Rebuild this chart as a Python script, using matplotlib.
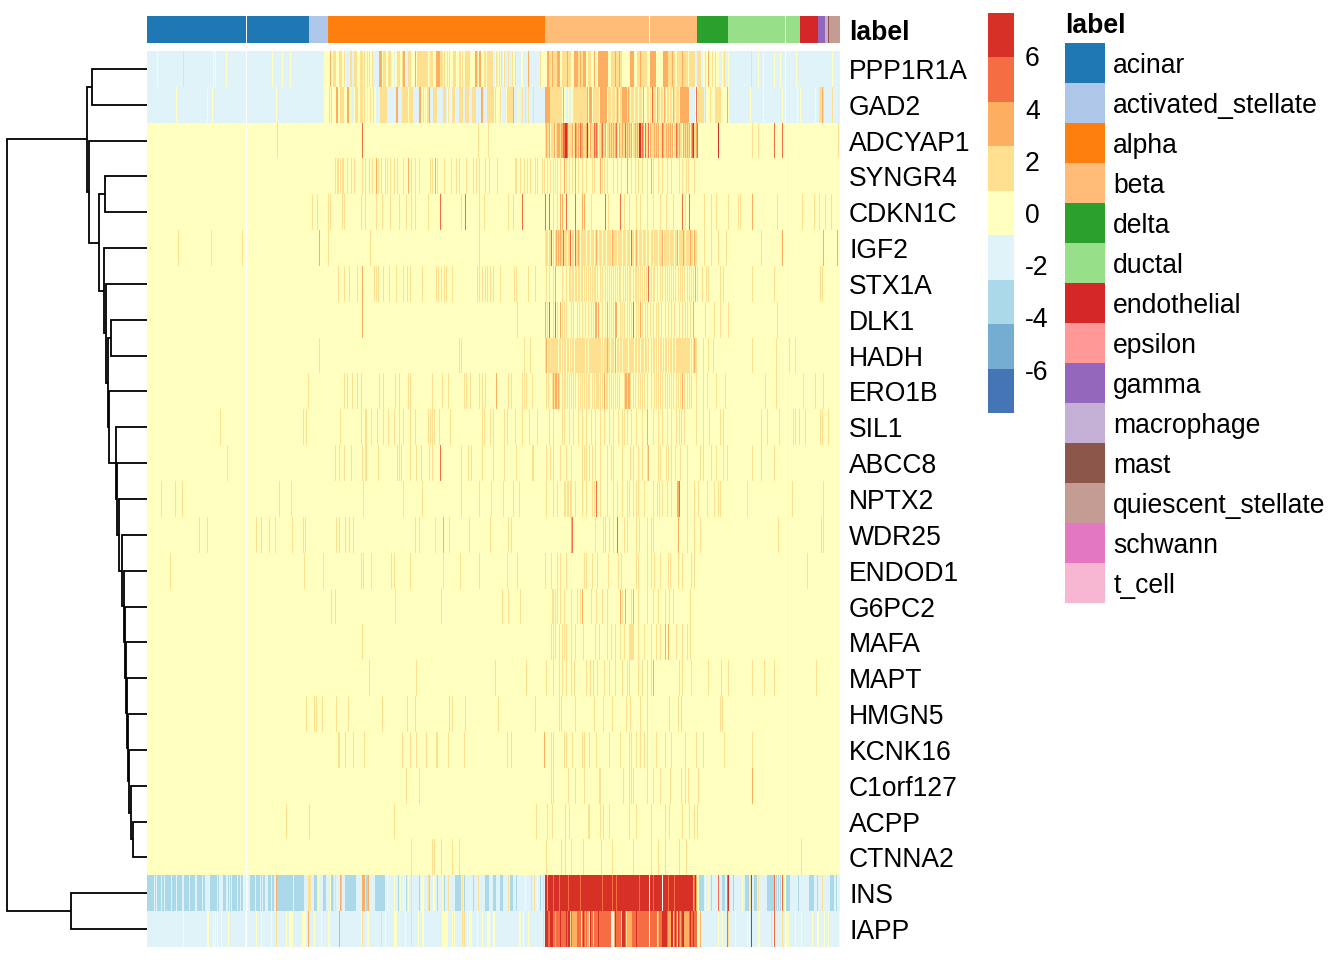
import numpy as np
import matplotlib
matplotlib.use("Agg")
import matplotlib.pyplot as plt
from matplotlib.colors import ListedColormap, BoundaryNorm
from matplotlib.colorbar import Colorbar

plt.rcParams['font.family'] = ['Liberation Sans', 'DejaVu Sans']
W, H = 1344, 960
FS = 19.1

def cells(text):
    out = []
    for part in text.split():
        if '-' in part:
            a, b = part.split('-')
            out.extend(range(int(a), int(b) + 1))
        else:
            out.append(int(part))
    return out

GENES = ["PPP1R1A", "GAD2", "ADCYAP1", "SYNGR4", "CDKN1C", "IGF2", "STX1A", "DLK1", "HADH", "ERO1B",
         "SIL1", "ABCC8", "NPTX2", "WDR25", "ENDOD1", "G6PC2", "MAFA", "MAPT", "HMGN5", "KCNK16",
         "C1orf127", "ACPP", "CTNNA2", "INS", "IAPP"]
CELL_LABELS = ["acinar", "activated_stellate", "alpha", "beta", "delta", "ductal", "endothelial", "epsilon",
               "gamma", "macrophage", "mast", "quiescent_stellate", "schwann", "t_cell"]
CELL_COUNTS = [162, 19, 217, 152, 31, 72, 18, 0, 7, 3, 1, 11, 0, 0]
LABEL_COLORS = ["#1f77b4", "#aec7e8", "#ff7f0e", "#ffbb78", "#2ca02c", "#98df8a", "#d62728", "#ff9896",
                "#9467bd", "#c5b0d5", "#8c564b", "#c49c94", "#e377c2", "#f7b6d2"]
HEAT_COLORS = ["#4575b4", "#74add1", "#abd9e9", "#e0f3f8", "#ffffbf", "#fee090", "#fdae61", "#f46d43", "#d73027"]
N_CELLS = 693
GAP_CELLS = [99, 502, 638]
STEP = 1.7
LEVEL_LIMIT = 7.66
CBAR_TICKS = [-6, -4, -2, 0, 2, 4, 6]

# Level per row: first the background runs, then streaks by level (cell numbers).
PPP1R1A_BASE = [(0, 693, -1), (178, 572, 0)]
PPP1R1A = {
    0: "10 66 68 79 125 135 143 177 575 581 611 616 627 633 649 685",
    -1: "199-202 205 206 226-231 247 259 260 282 347 350 355 358-360 362-364 369-373 376-380 382-392 549 555",
    1: "36 186-188 192-194 197 203 204 207-209 213-215 217 220 222 225 236-238 241-243 250-252 255 261-263 270-280 283-285 "
       "293-295 297 300 302 306-308 312 313 315 318-322 330 337 338 340-345 349 352 354 357 361 365 368 393 "
       "402-409 415-423 431-435 441-443 464-474 490-499 521-527 530-540 542-547 550-553 558 565 568 577 604",
    2: "183 232-234 256 257 268 289-292 328 329 332 333 381 400 401 405 410-412 420 427-430 433 436-438 447 451-460 468 472 483-486 "
       "493 503-508 516-520 525 535 561",
}
GAD2_BASE = [(0, 693, -1), (178, 582, 0)]
GAD2 = {
    0: "29 60 65 129 177 603 616 635 650 653 668",
    -1: "204-206 220 229-232 240-248 251-254 266-271 274 278 283-285 290-295 299 303 309-311 316 317 322-324 329-333 336-339 "
        "355-358 367-370 372-374 376 377 379 380 382-385 387-397 419 420 422 423 543-547 557",
    1: "182 184 193-196 208-210 213-215 217 223 226 233-239 255-260 262-265 276 280 281 286-289 296-298 301 305-307 312-315 "
       "318-321 325-328 340-346 348 353 360-365 375 378 381 386 403-414 426-439 446-451 461-463 465-467 469-471 473-482 484-486 488-490 "
       "492-494 500-503 506-508 510-512 514 515 517 518 520 521 523 524 526 527 529-531 551-556 558 563 568-573 672-676 685",
    2: "189 190 200 201 249 250 272 273 282 334 335 366 398-402 416 440 442-444 453-459 470 475-479 481 496 510 517 526 533-541 580 675",
    3: "505 549",
}
ADCYAP1_BASE = [(0, 693, 0), (398, 550, 1)]
ADCYAP1 = {
    0: "403 408 426 442 451 459 471 485 497 512 526 535 543",
    1: "130 331 341 605 611 691",
    2: "399 402 407 410-412 414 415 425 429 431 434 435 439 443 448 450 454 458 462 464 466 468 472 475 480 482 484 488 490 494 496 503 "
       "507 509 511 516 519 521 523 525 530 532 536 538 540 542 544 549",
    3: "215 416 417 420 428 433 447 449 455 469 478 495 498 501 515 529 545 550 627 635",
    4: "418 419 440 492 493 546 571",
}
SYNGR4_BASE = [(0, 693, 0)]
SYNGR4 = {
    1: "188 190 191 193 195 196 200 204 207 215 218 222 225 231 234 238 240 243 247 250 256 264 268 272 283 285 290 297 304 309 312 "
       "319 326 329 332 338 342 350 368 369 373 377 380 383 388 390 395 397 400 403 406 408 410 413 419 422 425 431 435 439 445 447 "
       "455 457 460 466 470 474 484 488 491 495 500 506 511 515 520 524 532 535 539 541 547",
    2: "229 261 288 417 428 453 480 504",
}
CDKN1C_BASE = [(0, 693, 0)]
CDKN1C = {
    1: "165 170 181 183 195 197 214 218 229 235 243 252 259 264 268 281 314 332 337 361 366 406 410 444 461 477 482 489 493 500 506 "
       "513 519 526 538 557 564 569 581 591 593 630 655 667 672 678 684",
    2: "413 415 435 437 605",
    3: "293 318 375 398 402 419 428 458 473 535 542",
}
IGF2_BASE = [(0, 693, 0), (398, 550, 1)]
IGF2 = {
    0: "401 405 407 420 424 427 433 439 443 447 451 455 459 464 470 475 479 483 487 491 495 499 503 506 511 516 522 527 531 538 546",
    1: "31 64 95 181 223 332 557 564 571 579 614",
    2: "172 409 411 413 431 449 465 489 502 515 530 536 543 547 635 676 690",
    3: "404 416 423 428 484",
}
STX1A_BASE = [(0, 693, 0)]
STX1A = {
    1: "191 197 202 210 227 229 231 236 242 249 256 260 263 275 289 291 294 297 299 305 330 332 335 338 340 343 346 353 367 369 381 388 "
       "399 402 406 415 419 422 423 425 426 428 429 431 432 434 435 437 439 441 443 445 447 448 450 453 455 458 460 462 464 466 468 470 "
       "472 473 476 478 480 482 483 486 488 489 491 493 495 497 499 502 504 506 507 510 513 515 518 520 522 524 526 528 531 533 535 537 "
       "540 542 544 546 550 555 559 561 573 576 605 627 673 675",
    2: "215 408 548",
    3: "501",
}
DLK1_BASE = [(0, 693, 0)]
DLK1 = {
    1: "370 400 406 410 415 417 419 424 426 430 432 435 438 441 444 446 455 458 462 464 466 473 475 477 480 482 484 489 491 495 498 500 "
       "503 506 509 511 514 518 521 524 527 532 535 538 540 543 558 567 573 581 630",
    2: "215 398 413 448 449 451 460 468 469 493 546",
    3: "402 408 486",
}
HADH_BASE = [(0, 693, 0), (398, 550, 1)]
HADH = {
    0: "400 411 414 416 419 422 424 427 438 441 454 456 463 467 469 472 475 481 487 490 493 497 500 503 505 508 510 512 515 517 520 522 "
       "525 528 543 545",
    1: "172 312 314 377 383 556 561 566 605 629 642 648",
    2: "399 460 468 547",
}
ERO1B_BASE = [(0, 693, 0)]
ERO1B = {
    1: "161 197 200 205 210 214 232 236 248 252 261 263 285 295 301 317 319 323 332 335 338 361 364 375 377 379 385 399 401 405 407 "
       "410 412 415 417 418 420 422 424 426 428 431 433 435 437 439 441 442 445 447 449 450 451 453 455 459 460 462 464 466 468 470 472 "
       "477 480 483 486 488 491 493 495 497 500 502 504 507 509 511 513 515 518 520 522 524 526 529 531 533 537 540 542 544 549 "
       "556 560 569 578 618 629 656 668 676",
    2: "349 406 408 409 411 457 478 479 481 482 535",
}
SIL1_BASE = [(0, 693, 0)]
SIL1 = {
    1: "73 156 159 193 214 218 219 224 230 236 241 247 252 256 263 268 281 283 285 287 292 303 335 337 343 346 357 360 368 375 382 390 "
       "402 406 415 417 422 426 431 435 439 444 448 453 457 462 466 471 475 477 480 484 489 495 506 511 515 520 524 529 532 534 537 549 "
       "556 562 573 576 614 620 632 646 648 652 658 673 675 681",
    2: "500",
}
ABCC8_BASE = [(0, 693, 0)]
ABCC8 = {
    1: "80 188 192 197 204 215 218 219 231 250 252 254 263 269 274 282 285 314 321 324 335 346 357 369 385 386 399 403 406 413 419 424 "
       "435 437 439 442 445 448 453 460 464 466 475 483 486 491 495 500 511 513 519 521 524 528 533 540 553 556 564 569 576 580 605 614 627",
    2: "501",
    3: "293",
}
NPTX2_BASE = [(0, 693, 0)]
NPTX2 = {
    1: "14 28 35 132 144 216 256 275 314 332 344 356 366 372 399 406 410 417 418 420 421 423 424 428 435 439 445 447 453 460 466 470 475 "
       "480 482 486 489 491 497 506 510 512 515 520 524 540 547 551 560 567 571 573 600 645 676",
    2: "530 531",
    3: "449 532",
}
WDR25_BASE = [(0, 693, 0)]
WDR25 = {
    1: "52 60 109 114 122 128 145 156 158 189 192 198 202 206 268 272 288 302 322 343 361 364 448 456 458 462 466 477 480 489 492 500 504 "
       "506 540 547 553 631 674 676",
    2: "296 424 531",
    3: "425 470",
}
ENDOD1_BASE = [(0, 693, 0)]
ENDOD1 = {
    1: "23 157 176 214 216 224 244 247 263 296 313 332 360 370 398 404 410 413 419 437 439 445 450 461 471 474 489 491 500 504 507 513 521 "
       "523 531 535 544 547 660",
}
G6PC2_BASE = [(0, 693, 0)]
G6PC2 = {
    1: "184 188 248 294 355 361 373 405 406 408 410 413 417 424 430 433 444 449 455 460 475 484 491 500 506 511 518 522 526 543",
    2: "435 473 478 486",
}
MAFA_BASE = [(0, 693, 0)]
MAFA = {
    1: "215 404 406 408 412 415 417 419 424 428 436 448 452 460 464 468 473 477 482-486 491 497 504 509 513 529 535 540 543",
    2: "518 521",
}
MAPT_BASE = [(0, 693, 0)]
MAPT = {
    1: "222 269 348 379 399 406 412 415 419 424 427 439 443 446 450 457 462 468 475 480 482 491 495 500 504 532 535 544 561 574 581 605 "
       "617 627 669",
    2: "506",
}
HMGN5_BASE = [(0, 693, 0)]
HMGN5 = {
    1: "159 167 169 175 189 201 235 260 268 302 305 318 351 388 412 414 428 447 456 465 479 483 493 500 522 531 534 573 575",
}
KCNK16_BASE = [(0, 693, 0)]
KCNK16 = {
    1: "191 192 198 206 217 255 263 269 279 289 290 301 317 360 364 404 406 417 419 425 435 437 442 449 462 473 482 484 489 493 497 500 "
       "509 518 524 538 549 556 577 605",
    2: "397",
}
C1ORF127_BASE = [(0, 693, 0)]
C1ORF127 = {
    1: "259 272 404 406 421 428 437 452 453 476 482 484 486 500 506 513 523 534 538 541 551",
    2: "605",
}
ACPP_BASE = [(0, 693, 0)]
ACPP = {
    1: "139 162 247 389 400 405 418 422 441 442 453 456 462 482 489 504 518 522 535 542 547 550",
}
CTNNA2_BASE = [(0, 693, 0)]
CTNNA2 = {
    1: "264 285 287 294 305 312 399 414 418 424 436 454 465 486 504 511 518 532 539 654",
}
INS_BASE = [(0, 238, -2), (238, 398, -1), (398, 550, 4), (550, 693, -1)]
INS = {
    -1: "7 9 14 17 24 29 35 36 42 48 49 55 58-62 70 72-75 79 80 82 84 90 93 97-99 101 102 108 113 115 118-120 124 127 128 146 "
        "157-160 164-166 170-175 179-182 186-193 195-197 209-215 218 222-227",
    -2: "228-237 251 259 272 282 290 297 308-313 317 326 338-341 346-348 353-355 363-365 369 393 552-556 564 575-577 586 598-601 607-609 "
        "620-626 629 631 633 639-642 651 662-666 670 683-686 689",
    0: "96 100 171 183 240 247 253 256 258 261 274-276 286 287 295 378 390 550 551 558 561 595 637",
    1: "161-163 186 188 264 281 301 315 331 361 384 387 396 603 611 675",
    2: "129 193 215-217 221 400 546 549",
    3: "406 412 421 433 455 465 469 492 506 521 527 547 571 580 627 635",
    4: "581 604",
    99: "515",
}
IAPP_BASE = [(0, 693, -1), (398, 550, 3)]
IAPP = {
    0: "36 60 61 66 68 70 74 81 98 109 114 124 139 142-145 155-158 167 174 181 182 214 220 221 238 247-249 258 271 275 276 295-300 305 307 "
       "320 322-324 330 335 340-342 346 347 372 373 376 381 550-554 571 575 588 600 602 611 612 639 641 648 654 665 670 671 677 681 692",
    1: "129 215 234 264 315 317 396 581 624 635 423 446 474 479 510 526 530 540",
    2: "161 192 408 425-429 438 440 441 467 480-484 511 521-523 533 537-541 553",
    3: "580 627",
    4: "398-400 403-405 413 419 421 422 436 443 451 468 475-477 489 502 515-519 524 525 528 531 535 536 543 546 604",
    -1: "434 442 464-466",
}

# Dendrogram merges: (merge height, first child, second child); integers are row numbers.
TREE_TAIL = (14.3, 21, 22)
TREE_C1 = (15.7, 20, TREE_TAIL)
TREE_KCNK = (18, 19, TREE_C1)
TREE_HMGN = (19, 18, TREE_KCNK)
TREE_MAPT = (20, 17, TREE_HMGN)
TREE_MAFA = (21, 16, TREE_MAPT)
TREE_G6PC = (22, 15, TREE_MAFA)
TREE_ENDOD = (23.5, 14, TREE_G6PC)
TREE_WDR = (25.3, 13, TREE_ENDOD)
TREE_NPTX = (28, 12, TREE_WDR)
TREE_ABCC = (30, 11, TREE_NPTX)
TREE_SIL = (31.5, 10, TREE_ABCC)
TREE_ERO = (38, 9, TREE_SIL)
TREE_DLK = (36, 7, 8)
TREE_V = (39.5, TREE_DLK, TREE_ERO)
TREE_STX = (41.5, 6, TREE_V)
TREE_IGF = (43, 5, TREE_STX)
TREE_SYN = (42.5, 3, 4)
TREE_R = (48, TREE_SYN, TREE_IGF)
TREE_Q = (58.5, 2, TREE_R)
TREE_PPP = (54.7, 0, 1)
TREE_P = (60.5, TREE_PPP, TREE_Q)
TREE_INS = (76, 23, 24)
TREE_ROOT = (140, TREE_P, TREE_INS)

ROW_DATA = [(PPP1R1A_BASE, PPP1R1A), (GAD2_BASE, GAD2), (ADCYAP1_BASE, ADCYAP1), (SYNGR4_BASE, SYNGR4), (CDKN1C_BASE, CDKN1C),
            (IGF2_BASE, IGF2), (STX1A_BASE, STX1A), (DLK1_BASE, DLK1), (HADH_BASE, HADH), (ERO1B_BASE, ERO1B), (SIL1_BASE, SIL1),
            (ABCC8_BASE, ABCC8), (NPTX2_BASE, NPTX2), (WDR25_BASE, WDR25), (ENDOD1_BASE, ENDOD1), (G6PC2_BASE, G6PC2), (MAFA_BASE, MAFA),
            (MAPT_BASE, MAPT), (HMGN5_BASE, HMGN5), (KCNK16_BASE, KCNK16), (C1ORF127_BASE, C1ORF127), (ACPP_BASE, ACPP),
            (CTNNA2_BASE, CTNNA2), (INS_BASE, INS), (IAPP_BASE, IAPP)]


def px_axes(fig, x0, y0, x1, y1):
    return fig.add_axes([x0 / W, 1 - y1 / H, (x1 - x0) / W, (y1 - y0) / H])


matrix = np.zeros((len(GENES), N_CELLS))
for r, (base, streaks) in enumerate(ROW_DATA):
    for a, b, lev in base:
        matrix[r, a:b] = lev * STEP
    for lev, txt in streaks.items():
        idx = [c for c in cells(txt) if c < N_CELLS]
        matrix[r, idx] = np.nan if lev == 99 else lev * STEP
matrix[:, GAP_CELLS] = np.nan

heat_cmap = ListedColormap(HEAT_COLORS)
heat_cmap.set_bad("white")
bounds = np.linspace(-LEVEL_LIMIT, LEVEL_LIMIT, len(HEAT_COLORS) + 1)
heat_norm = BoundaryNorm(bounds, heat_cmap.N)

fig = plt.figure(figsize=(W / 100, H / 100), dpi=100, facecolor="white")

# Heatmap
ax = px_axes(fig, 147, 51, 840, 947)
ax.imshow(np.ma.masked_invalid(matrix), cmap=heat_cmap, norm=heat_norm, aspect="auto", interpolation="nearest",
          interpolation_stage="rgba")
ax.yaxis.tick_right()
ax.set_yticks(np.arange(len(GENES)))
ax.set_yticklabels(GENES, fontsize=FS)
ax.tick_params(axis="y", length=0, pad=6.5)
ax.set_xticks([])
for s in ax.spines.values():
    s.set_visible(False)

# Annotation bar
label_index = np.repeat(np.arange(len(CELL_LABELS)), CELL_COUNTS).astype(float)
label_index[GAP_CELLS] = np.nan
label_cmap = ListedColormap(LABEL_COLORS)
label_cmap.set_bad("white")
ax_top = px_axes(fig, 147, 16, 840, 43)
ax_top.imshow(np.ma.masked_invalid(label_index[None, :]), cmap=label_cmap, vmin=-0.5, vmax=len(CELL_LABELS) - 0.5,
              aspect="auto", interpolation="nearest")
ax_top.set_xticks([])
ax_top.yaxis.tick_right()
ax_top.set_yticks([0])
ax_top.set_yticklabels(["label"], fontsize=FS, fontweight="bold")
ax_top.tick_params(axis="y", length=0, pad=6.5)
for s in ax_top.spines.values():
    s.set_visible(False)

# Dendrogram
ax_d = px_axes(fig, 7, 51, 147, 947)
ax_d.set_xlim(TREE_ROOT[0], 0)
ax_d.set_ylim(len(GENES) - 0.5, -0.5)
ax_d.axis("off")


def draw(node):
    if isinstance(node, int):
        return float(node), 0.0
    h, a, b = node
    ya, ha = draw(a)
    yb, hb = draw(b)
    ax_d.plot([ha, h, h, hb], [ya, ya, yb, yb], color="black", lw=1.3, solid_joinstyle="miter",
              solid_capstyle="butt", clip_on=False)
    return (ya + yb) / 2, h


draw(TREE_ROOT)

# Colour bar
cax = px_axes(fig, 988, 13, 1014, 413)
sm = plt.cm.ScalarMappable(norm=heat_norm, cmap=heat_cmap)
cb = Colorbar(cax, sm, orientation="vertical", spacing="proportional", ticks=CBAR_TICKS, drawedges=False)
cb.outline.set_visible(False)
cb.minorticks_off()
cax.set_yticklabels([str(t) for t in CBAR_TICKS], fontsize=FS)
cax.tick_params(axis="y", length=0, pad=8)

# Legend
ax_l = px_axes(fig, 1065, 43, 1105, 603)
ax_l.imshow(np.arange(len(CELL_LABELS))[:, None], cmap=label_cmap, aspect="auto", interpolation="nearest")
ax_l.set_xticks([])
ax_l.yaxis.tick_right()
ax_l.set_yticks(np.arange(len(CELL_LABELS)))
ax_l.set_yticklabels(CELL_LABELS, fontsize=FS)
ax_l.tick_params(axis="y", length=0, pad=6)
for s in ax_l.spines.values():
    s.set_visible(False)
ax_l.set_title("label", fontsize=FS, fontweight="bold", loc="left", pad=7, x=0)

fig.savefig("out.png", dpi=100, facecolor="white")
